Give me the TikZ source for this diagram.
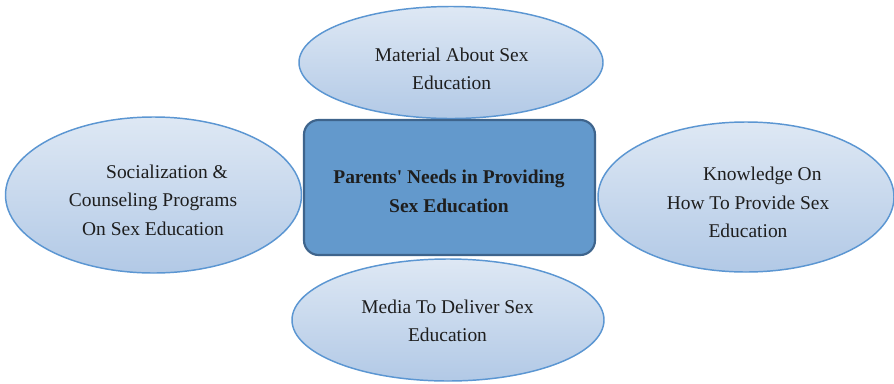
\documentclass[tikz,border=0pt]{standalone}
\usepackage{fontspec}
\setmainfont{Liberation Serif}
\usetikzlibrary{shapes.geometric}
\definecolor{ellTop}{RGB}{222,232,244}
\definecolor{ellBot}{RGB}{178,201,230}
\definecolor{ellLine}{RGB}{91,150,210}
\definecolor{boxFill}{RGB}{99,153,204}
\definecolor{boxLine}{RGB}{62,100,140}
\definecolor{txt}{RGB}{30,30,30}
\tikzset{
  need/.style={ellipse, draw=ellLine, line width=1.1pt,
    top color=ellTop, bottom color=ellBot, inner sep=0pt},
  hub/.style={draw=boxLine, line width=1.6pt, fill=boxFill,
    rounded corners=11pt},
  ntext/.style={align=center, text=txt, inner sep=0pt,
    font=\fontsize{14.6}{21.4}\selectfont},
  htext/.style={ntext, font=\fontsize{14.6}{21.8}\selectfont\bfseries}
}
\begin{document}
\begin{tikzpicture}[x=0.75pt,y=-0.75pt]
  \useasboundingbox (0,0) rectangle (894,383);
  \fill[white] (0,0) rectangle (894,383);

  % surrounding needs
  \node[need, minimum width=228pt, minimum height=84pt] (top) at (451,62.5) {};
  \node[need, minimum width=222pt, minimum height=117pt] (left) at (153.5,195) {};
  \node[need, minimum width=222pt, minimum height=112.5pt] (right) at (746,197) {};
  \node[need, minimum width=234pt, minimum height=91.5pt] (bottom) at (448,320) {};

  % central box
  \draw[hub] (304,120) rectangle (595,255);
  \coordinate (hubc) at (449.5,187.5);

  % labels
  \node[ntext] (toptxt) at (451.7,69) {Material About Sex\\Education};
  \node[ntext] (lefttxt) at (153,200) {\hspace*{21pt}Socialization \&\\Counseling Programs\\On Sex Education};
  \node[ntext] (righttxt) at (748,202.5) {\hspace*{21.5pt}Knowledge On\\How To Provide Sex\\Education};
  \node[ntext] (bottomtxt) at (447.5,321) {Media To Deliver Sex\\Education};
  \node[htext] (hubtxt) at (449,191.5) {Parents\textquotesingle\ Needs in Providing\\Sex Education};
\end{tikzpicture}
\end{document}
